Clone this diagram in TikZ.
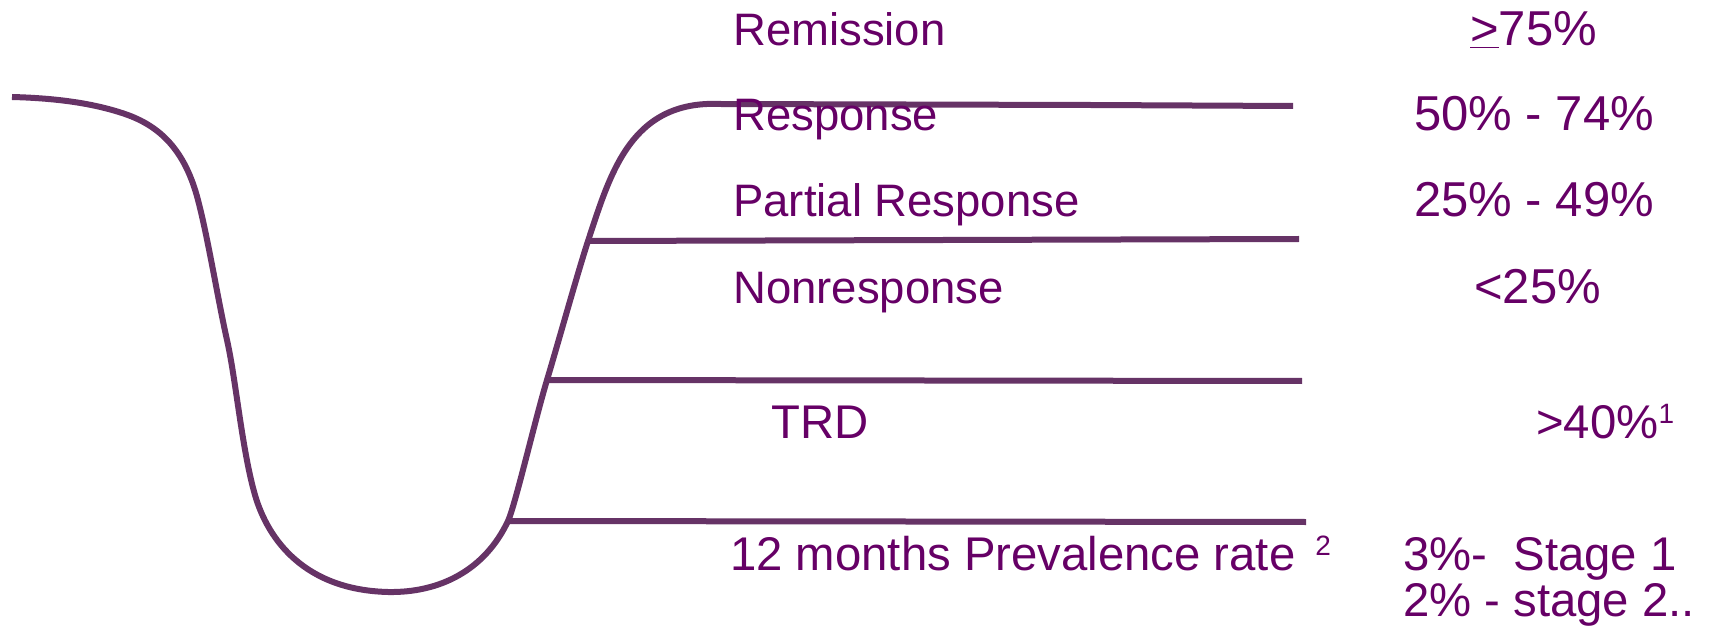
\documentclass[tikz,border=0pt]{standalone}
\usepackage{fontspec}
\setmainfont{Liberation Sans}
\definecolor{linec}{RGB}{102,51,102}
\definecolor{txtc}{RGB}{102,0,102}
\newcommand{\supnum}[1]{\raisebox{15pt}{\fontsize{28}{30}\selectfont #1}}
\begin{document}
\begin{tikzpicture}[x=1pt,y=-1pt,
  lbl/.style={anchor=base west, inner sep=0pt, text=txtc, font=\fontsize{45.5}{50}\selectfont},
  val/.style={lbl, font=\fontsize{49}{54}\selectfont},
  low/.style={lbl, font=\fontsize{47.3}{52}\selectfont},
  curve/.style={draw=linec, line width=6pt}]
\useasboundingbox (0,0) rectangle (1714,628);
% horizontal lines (start points lie on the curve)
\coordinate (l2a) at (588,241);  \coordinate (l2b) at (1299,239);
\coordinate (l3a) at (547,380);  \coordinate (l3b) at (1302,381);
\coordinate (l4a) at (508,521);  \coordinate (l4b) at (1306,522);
\coordinate (c0) at (12,97);
\coordinate (ctop) at (1293,106);
% curve
\draw[curve] (c0)
  .. controls (50,98) and (90,102) .. (125,114)
  .. controls (160,126) and (185,150) .. (198,200)
  .. controls (208,238) and (218,300) .. (227,340)
  .. controls (236,380) and (242,450) .. (255,495)
  .. controls (268,540) and (305,590) .. (388,592)
  .. controls (440,593) and (485,570) .. (l4a)
  .. controls (515,506) and (535,420) .. (l3a)
  .. controls (559,340) and (577,275) .. (l2a)
  .. controls (610,175) and (630,100) .. (720,104)
  -- (1090,105) -- (ctop);
\draw[curve] (l2a) -- (l2b);
\draw[curve] (l3a) -- (l3b);
\draw[curve] (l4a) -- (l4b);
% labels
\node[lbl] (rem) at (733,46) {Remission};
\node[val] (remv) at (1470,46) {\underline{>}75\%};
\node[lbl] (resp) at (733,131) {Response};
\node[val] (respv) at (1414,131) {50\% - 74\%};
\node[lbl] (part) at (733,217) {Partial Response};
\node[val] (partv) at (1414,217) {25\% - 49\%};
\node[lbl] (non) at (733,304) {Nonresponse};
\node[val] (nonv) at (1474,304) {<25\%};
\node[low] (trd) at (771,438) {TRD};
\node[low] (trdv) at (1536,438) {>40\%\supnum{1}};
\node[low] (prev) at (730,570) {12 months Prevalence rate\hspace{20pt}\supnum{2}};
\node[low] (st1) at (1403,570) {3\%-\ \ Stage 1};
\node[low] (st2) at (1403,616) {2\% - stage 2..};
\end{tikzpicture}
\end{document}
